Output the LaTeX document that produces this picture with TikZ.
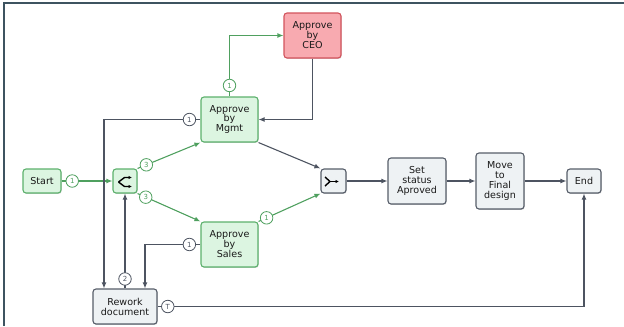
\documentclass[tikz,border=0pt]{standalone}
\usepackage{fontspec}
\setmainfont{DejaVu Sans}
\usetikzlibrary{arrows.meta,calc,positioning,shadows}

\definecolor{okfill}{HTML}{DCF5E1}
\definecolor{okdraw}{HTML}{5CB06C}
\definecolor{okarrow}{HTML}{4FA05F}
\definecolor{ceofill}{HTML}{F8AAB0}
\definecolor{ceodraw}{HTML}{D2535C}
\definecolor{plainfill}{HTML}{EEF2F4}
\definecolor{plaindraw}{HTML}{565D69}
\definecolor{darkarrow}{HTML}{4D5461}
\definecolor{framecol}{HTML}{3D5360}
\definecolor{txt}{HTML}{1A1A1A}

\begin{document}
\begin{tikzpicture}[
    x=1bp,
    y=-1bp,
    >={Latex[length=6bp,width=5bp]},
    task/.style={draw, rounded corners=3bp, align=center, inner sep=0pt, line width=1.1bp, text=txt, font=\fontsize{9.6}{10}\selectfont, drop shadow={shadow xshift=0.7bp, shadow yshift=-0.9bp, opacity=0.35}},
    okbox/.style={task, draw=okdraw, fill=okfill},
    ceobox/.style={task, draw=ceodraw, fill=ceofill},
    plainbox/.style={task, draw=plaindraw, fill=plainfill},
    num/.style={circle, draw, fill=white, inner sep=0pt, minimum size=12.5bp, line width=0.8bp, font=\fontsize{7}{7}\selectfont},
    oknum/.style={num, draw=okarrow, text=okarrow},
    dnum/.style={num, draw=darkarrow, text=darkarrow},
    okline/.style={->, draw=okarrow, line width=1.1bp},
    line/.style={->, draw=darkarrow, line width=1.1bp},
    glyph/.style={line width=1.4bp, black, -{Latex[length=3.5bp,width=3.5bp]}}
]
\useasboundingbox (0,0) rectangle (624,326);
\draw[framecol, line width=1.2bp] (4,326) -- (4,3) -- (624,3);

\node[okbox, minimum width=38bp, minimum height=24bp] (start) at (42,181) {Start};
\node[okbox, minimum width=24bp, minimum height=24bp] (fork) at (125,181) {};
\node[okbox, minimum width=57bp, minimum height=45bp] (mgmt) at (229.5,119.5) {Approve\\by\\Mgmt};
\node[ceobox, minimum width=57bp, minimum height=45bp] (ceo) at (312.5,35.5) {Approve\\by\\CEO};
\node[okbox, minimum width=57bp, minimum height=45bp] (sales) at (229.5,244.5) {Approve\\by\\Sales};
\node[plainbox, minimum width=64bp, minimum height=35bp] (rework) at (125,306.5) {Rework\\document};
\node[plainbox, minimum width=25bp, minimum height=24bp] (join) at (333.5,181) {};
\node[plainbox, minimum width=58bp, minimum height=46bp] (status) at (417,181) {Set\\status\\Aproved};
\node[plainbox, minimum width=48bp, minimum height=56bp] (final) at (500,181) {Move\\to\\Final\\design};
\node[plainbox, minimum width=34bp, minimum height=24bp] (end) at (584,181) {End};

\draw[glyph] ($(fork)+(-6.5,1)$) -- ($(fork)+(-0.5,-3.5)$) -- ($(fork)+(7,-3.5)$);
\draw[glyph] ($(fork)+(-6.5,1)$) -- ($(fork)+(-0.5,5.5)$) -- ($(fork)+(7,5.5)$);
\draw[line width=1.4bp, black] ($(join)+(-8.5,-4)$) -- ($(join)+(-3.5,0.5)$) -- ($(join)+(-8.5,5)$);
\draw[glyph] ($(join)+(-3.5,0.5)$) -- ($(join)+(5.5,0.5)$);

\draw[okline] (start) -- node[oknum, pos=0.21] (n1) {1} (fork);
\draw[okline] (fork.north east) -- node[oknum, pos=0.14] (n2) {3} (mgmt.south west);
\draw[okline] (fork.south east) -- node[oknum, pos=0.13] (n3) {3} (sales.north west);
\draw[okline] (mgmt.north) |- node[oknum, pos=0.09] (n4) {1} (ceo.west);
\draw[line] (ceo.south) |- (mgmt.east);
\draw[line] (mgmt.south east) -- (join.north west);
\draw[okline] (sales.north east) -- node[oknum, pos=0.13] (n5) {1} (join.south west);
\draw[line] (mgmt.west) -| node[dnum, pos=0.057] (n6) {1} ([xshift=-21bp]rework.north);
\draw[line] (sales.west) -| node[dnum, pos=0.1] (n7) {1} ([xshift=20bp]rework.north);
\draw[line] (rework.north) -- node[dnum, pos=0.1] (n8) {2} (fork.south);
\draw[line] (rework.east) -| node[dnum, pos=0.012] (n9) {T} (end.south);
\draw[line] (join) -- (status);
\draw[line] (status) -- (final);
\draw[line] (final) -- (end);
\end{tikzpicture}
\end{document}
